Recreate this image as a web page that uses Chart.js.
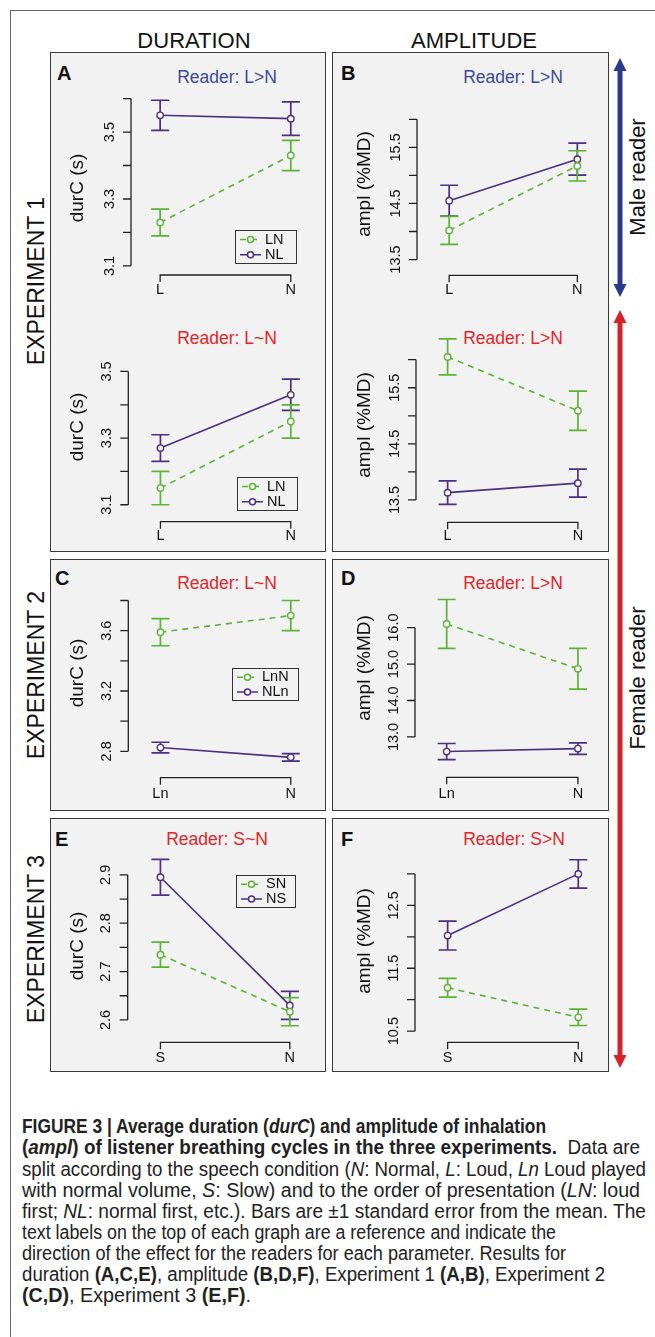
<!DOCTYPE html>
<html lang="en">
<head>
<meta charset="UTF-8" />
<title>Figure 3 - durC and ampl</title>
<script src="https://cdn.jsdelivr.net/npm/chart.js"></script>
<style>
  body {
    margin: 0;
    width: 655px;
    height: 1337px;
    position: relative;
    overflow: hidden;
    background: #fff;
    font-family: "Liberation Sans", Arial, sans-serif;
    color: #111;
  }
  .abs { position: absolute; }
  .box { position: absolute; background: #f2f2f2; border: 1.5px solid #3a3a3a; box-sizing: border-box; }
  .head { position: absolute; font-size: 22px; line-height: 1; white-space: nowrap; transform: translate(-50%, -50%); }
  .rot { position: absolute; line-height: 1; white-space: nowrap; transform: translate(-50%, -50%) rotate(-90deg); }
  .letter { position: absolute; font-weight: bold; font-size: 20px; line-height: 20px; }
  .ttl { position: absolute; font-size: 17.5px; line-height: 1; white-space: nowrap; transform: translate(-50%, -50%); }
  .blue { color: #3d489c; }
  .red { color: #e0252b; }
  canvas { position: absolute; }
  .cap { position: absolute; left: 22px; font-size: 20px; line-height: 20px; white-space: nowrap; transform-origin: 0 0; color: #222; }
</style>
</head>
<body>
  <!-- outer frame -->
  <div class="abs" style="left:10px;top:10px;width:700px;height:1400px;border-left:1.5px solid #666;border-top:1.5px solid #666;"></div>

  <div class="head" style="left:194px;top:41px;">DURATION</div>
  <div class="head" style="left:474px;top:41px;">AMPLITUDE</div>

  <div class="rot" style="left:36px;top:281px;font-size:23px;">EXPERIMENT 1</div>
  <div class="rot" style="left:36px;top:675px;font-size:23px;">EXPERIMENT 2</div>
  <div class="rot" style="left:36px;top:939px;font-size:23px;">EXPERIMENT 3</div>

  <div class="box" style="left:50px;top:52px;width:276px;height:500px;"></div>
  <div class="box" style="left:332px;top:52px;width:277px;height:500px;"></div>
  <div class="box" style="left:50px;top:559px;width:276px;height:252px;"></div>
  <div class="box" style="left:332px;top:559px;width:277px;height:252px;"></div>
  <div class="box" style="left:50px;top:818px;width:276px;height:254px;"></div>
  <div class="box" style="left:332px;top:818px;width:277px;height:254px;"></div>

  <div class="letter" style="left:57px;top:63px;">A</div>
  <div class="letter" style="left:341px;top:63px;">B</div>
  <div class="letter" style="left:55px;top:568px;">C</div>
  <div class="letter" style="left:341px;top:568px;">D</div>
  <div class="letter" style="left:55px;top:829px;">E</div>
  <div class="letter" style="left:341px;top:829px;">F</div>

  <div class="ttl blue" style="left:227px;top:78px;">Reader: L&gt;N</div>
  <div class="ttl blue" style="left:513px;top:78px;">Reader: L&gt;N</div>
  <div class="ttl red" style="left:227px;top:339px;">Reader: L~N</div>
  <div class="ttl red" style="left:513px;top:339px;">Reader: L&gt;N</div>
  <div class="ttl red" style="left:227px;top:584px;">Reader: L~N</div>
  <div class="ttl red" style="left:513px;top:584px;">Reader: L&gt;N</div>
  <div class="ttl red" style="left:217px;top:840px;">Reader: S~N</div>
  <div class="ttl red" style="left:514px;top:840px;">Reader: S&gt;N</div>

  <!-- reader arrows -->
  <svg class="abs" style="left:0;top:0;" width="655" height="1337">
    <rect x="617.5" y="68" width="5" height="220" fill="#2b3a8f" />
    <polygon points="620,58 613.5,71 626.5,71" fill="#2b3a8f" />
    <polygon points="620,297 613.5,284 626.5,284" fill="#2b3a8f" />
    <rect x="617.5" y="320" width="5" height="738" fill="#d7202a" />
    <polygon points="620,310 613.5,323 626.5,323" fill="#d7202a" />
    <polygon points="620,1068 613.5,1055 626.5,1055" fill="#d7202a" />
  </svg>
  <div class="rot" style="left:638px;top:177px;font-size:22px;">Male reader</div>
  <div class="rot" style="left:638px;top:678px;font-size:22px;">Female reader</div>

  <canvas id="A1"></canvas>
  <canvas id="A2"></canvas>
  <canvas id="B1"></canvas>
  <canvas id="B2"></canvas>
  <canvas id="C"></canvas>
  <canvas id="D"></canvas>
  <canvas id="E"></canvas>
  <canvas id="F"></canvas>

  <div class="cap" data-r="546" style="top:1116px;"><b>FIGURE 3 | Average duration (<i>durC</i>) and amplitude of inhalation</b></div>
  <div class="cap" data-r="640" style="top:1137px;"><b>(<i>ampl</i>) of listener breathing cycles in the three experiments.</b>&nbsp; Data are</div>
  <div class="cap" data-r="646" style="top:1158.5px;">split according to the speech condition (<i>N</i>: Normal, <i>L</i>: Loud, <i>Ln</i> Loud played</div>
  <div class="cap" data-r="640" style="top:1179.5px;">with normal volume, <i>S</i>: Slow) and to the order of presentation (<i>LN</i>: loud</div>
  <div class="cap" data-r="646" style="top:1200.5px;">first; <i>NL</i>: normal first, etc.). Bars are ±1 standard error from the mean. The</div>
  <div class="cap" data-r="556" style="top:1221.5px;">text labels on the top of each graph are a reference and indicate the</div>
  <div class="cap" data-r="566" style="top:1242.5px;">direction of the effect for the readers for each parameter. Results for</div>
  <div class="cap" data-r="605" style="top:1263.5px;">duration <b>(A,C,E)</b>, amplitude <b>(B,D,F)</b>, Experiment 1 <b>(A,B)</b>, Experiment 2</div>
  <div class="cap" data-r="251" style="top:1284.5px;"><b>(C,D)</b>, Experiment 3 <b>(E,F)</b>.</div>

  <script>
    // conditions on the x axis
    const e1Cond = ['L', 'N'];
    const e2Cond = ['Ln', 'N'];
    const e3Cond = ['S', 'N'];

    // means and +-1 SE (left condition, N)
    // experiment 1, male reader
    const durMaleLN = [3.23, 3.43],  durMaleLNse = [0.04, 0.045];
    const durMaleNL = [3.55, 3.54],  durMaleNLse = [0.045, 0.05];
    const amplMaleLN = [14.02, 15.17], amplMaleLNse = [0.25, 0.27];
    const amplMaleNL = [14.55, 15.29], amplMaleNLse = [0.275, 0.285];
    // experiment 1, female reader
    const durFemLN = [3.15, 3.35],   durFemLNse = [0.05, 0.05];
    const durFemNL = [3.27, 3.43],   durFemNLse = [0.04, 0.047];
    const amplFemLN = [16.05, 15.09], amplFemLNse = [0.32, 0.35];
    const amplFemNL = [13.63, 13.80], amplFemNLse = [0.21, 0.25];
    // experiment 2
    const durLnN = [3.59, 3.70],     durLnNse = [0.09, 0.10];
    const durNLn = [2.825, 2.76],    durNLnse = [0.035, 0.025];
    const amplLnN = [16.10, 14.87],  amplLnNse = [0.67, 0.56];
    const amplNLn = [12.60, 12.68],  amplNLnse = [0.22, 0.16];
    // experiment 3
    const durSN = [2.735, 2.617],    durSNse = [0.026, 0.029];
    const durNS = [2.895, 2.63],     durNSse = [0.037, 0.029];
    const amplSN = [11.19, 10.72],   amplSNse = [0.15, 0.13];
    const amplNS = [12.02, 13.00],   amplNSse = [0.23, 0.225];

    // y ticks and their labels ('' = tick without label)
    const ticksA1 = [3.1, 3.2, 3.3, 3.4, 3.5, 3.6], labA1 = ['3.1', '', '3.3', '', '3.5', ''];
    const ticksA2 = [3.1, 3.2, 3.3, 3.4, 3.5],      labA2 = ['3.1', '', '3.3', '', '3.5'];
    const ticksB = [13.5, 14, 14.5, 15, 15.5, 16],  labB = ['13.5', '', '14.5', '', '15.5', ''];
    const ticksC = [2.8, 3.0, 3.2, 3.4, 3.6, 3.8],  labC = ['2.8', '', '3.2', '', '3.6', ''];
    const ticksD = [13, 14, 15, 16],                labD = ['13.0', '14.0', '15.0', '16.0'];
    const ticksE = [2.6, 2.65, 2.7, 2.75, 2.8, 2.85, 2.9], labE = ['2.6', '', '2.7', '', '2.8', '', '2.9'];
    const ticksF = [10.5, 11, 11.5, 12, 12.5, 13],  labF = ['10.5', '', '11.5', '', '12.5', ''];

    // page geometry of each plot: canvas box, y anchors [vLow, pxLow, vHigh, pxHigh], axes, title, legend
    const layA1 = { box: [51, 53, 274, 248], ya: [3.1, 270, 3.6, 95], axisX: 131, xL: 159, xN: 295, xAxisY: 275, xLabY: 290, ttl: [78, 188], leg: [235, 230, 61, 33] };
    const layA2 = { box: [51, 301, 274, 250], ya: [3.1, 508.3, 3.5, 369], axisX: 128.3, xL: 159.3, xN: 295, xAxisY: 521.7, xLabY: 535.5, ttl: [78, 427], leg: [237, 477, 60, 33] };
    const layB1 = { box: [333, 53, 275, 248], ya: [13.5, 263.3, 16, 116.7], axisX: 417, xL: 448.3, xN: 581.7, xAxisY: 275.3, xLabY: 290, ttl: [365, 184] };
    const layB2 = { box: [333, 301, 275, 250], ya: [13.5, 503.3, 16, 356.7], axisX: 416, xL: 446.7, xN: 582.3, xAxisY: 522.3, xLabY: 535.5, ttl: [365, 425] };
    const layC = { box: [51, 560, 274, 250], ya: [2.8, 754.3, 3.8, 596.7], axisX: 128.3, xL: 159.3, xN: 295, xAxisY: 777.7, xLabY: 793.5, ttl: [78, 673], leg: [232, 668, 66, 32] };
    const layD = { box: [333, 560, 275, 250], ya: [13, 739.3, 16, 625], axisX: 415, xL: 445.7, xN: 582.3, xAxisY: 777.3, xLabY: 794, ttl: [365, 668] };
    const layE = { box: [51, 819, 274, 252], ya: [2.6, 1023.3, 2.9, 871.7], axisX: 127.7, xL: 159.3, xN: 294, xAxisY: 1042.3, xLabY: 1057.5, ttl: [78, 946], leg: [236, 875, 59, 32] };
    const layF = { box: [333, 819, 275, 252], ya: [10.5, 1035, 13, 870.7], axisX: 415, xL: 446.7, xN: 582.7, xAxisY: 1042.3, xLabY: 1057.5, ttl: [365, 941] };

    const GREEN = '#5bb336';
    const PURPLE = '#4a2f82';
    const FONT = '"Liberation Sans", Arial, sans-serif';

    const plots = [
      { id: 'A1', cond: e1Cond, names: ['LN', 'NL'], g: [durMaleLN, durMaleLNse], p: [durMaleNL, durMaleNLse], ticks: ticksA1, lab: labA1, ylab: 'durC (s)', lay: layA1 },
      { id: 'A2', cond: e1Cond, names: ['LN', 'NL'], g: [durFemLN, durFemLNse], p: [durFemNL, durFemNLse], ticks: ticksA2, lab: labA2, ylab: 'durC (s)', lay: layA2 },
      { id: 'B1', cond: e1Cond, names: ['LN', 'NL'], g: [amplMaleLN, amplMaleLNse], p: [amplMaleNL, amplMaleNLse], ticks: ticksB, lab: labB, ylab: 'ampl (%MD)', lay: layB1 },
      { id: 'B2', cond: e1Cond, names: ['LN', 'NL'], g: [amplFemLN, amplFemLNse], p: [amplFemNL, amplFemNLse], ticks: ticksB, lab: labB, ylab: 'ampl (%MD)', lay: layB2 },
      { id: 'C', cond: e2Cond, names: ['LnN', 'NLn'], g: [durLnN, durLnNse], p: [durNLn, durNLnse], ticks: ticksC, lab: labC, ylab: 'durC (s)', lay: layC },
      { id: 'D', cond: e2Cond, names: ['LnN', 'NLn'], g: [amplLnN, amplLnNse], p: [amplNLn, amplNLnse], ticks: ticksD, lab: labD, ylab: 'ampl (%MD)', lay: layD },
      { id: 'E', cond: e3Cond, names: ['SN', 'NS'], g: [durSN, durSNse], p: [durNS, durNSse], ticks: ticksE, lab: labE, ylab: 'durC (s)', lay: layE },
      { id: 'F', cond: e3Cond, names: ['SN', 'NS'], g: [amplSN, amplSNse], p: [amplNS, amplNSse], ticks: ticksF, lab: labF, ylab: 'ampl (%MD)', lay: layF }
    ];

    function rotText(ctx, txt, x, y, font) {
      ctx.save();
      ctx.translate(x, y);
      ctx.rotate(-Math.PI / 2);
      ctx.font = font;
      ctx.textAlign = 'center';
      ctx.textBaseline = 'middle';
      ctx.fillText(txt, 0, 0);
      ctx.restore();
    }

    // R-style axes, error bars and legend
    function rStyle(p) {
      const ox = p.lay.box[0], oy = p.lay.box[1];
      return {
        id: 'rStyle',
        beforeDatasetsDraw(chart) {
          const { ctx, scales: { x, y } } = chart;
          chart.data.datasets.slice().reverse().forEach(ds => {
            ctx.save();
            ctx.strokeStyle = ds.borderColor;
            ctx.lineWidth = 1.7;
            ds.data.forEach(pt => {
              const px = x.getPixelForValue(pt.x);
              const lo = y.getPixelForValue(pt.y - pt.se);
              const hi = y.getPixelForValue(pt.y + pt.se);
              ctx.beginPath();
              ctx.moveTo(px, lo); ctx.lineTo(px, hi);
              ctx.moveTo(px - 9, lo); ctx.lineTo(px + 9, lo);
              ctx.moveTo(px - 9, hi); ctx.lineTo(px + 9, hi);
              ctx.stroke();
            });
            ctx.restore();
          });
        },
        afterDraw(chart) {
          const { ctx, scales: { x, y } } = chart;
          ctx.save();
          ctx.strokeStyle = '#222';
          ctx.fillStyle = '#111';
          ctx.lineWidth = 1.3;

          // y axis
          const ax = p.lay.axisX - ox;
          ctx.beginPath();
          ctx.moveTo(ax, y.getPixelForValue(p.ticks[0]));
          ctx.lineTo(ax, y.getPixelForValue(p.ticks[p.ticks.length - 1]));
          p.ticks.forEach(t => {
            const py = y.getPixelForValue(t);
            ctx.moveTo(ax - 8, py); ctx.lineTo(ax, py);
          });
          ctx.stroke();
          p.ticks.forEach((t, i) => {
            if (p.lab[i]) rotText(ctx, p.lab[i], ax - 21.5, y.getPixelForValue(t), '14.5px ' + FONT);
          });
          rotText(ctx, p.ylab, p.lay.ttl[0] - ox, p.lay.ttl[1] - oy, '19px ' + FONT);

          // x axis bracket
          const xa = p.lay.xAxisY - oy;
          const x0 = x.getPixelForValue(0), x1 = x.getPixelForValue(1);
          ctx.beginPath();
          ctx.moveTo(x0, xa + 7); ctx.lineTo(x0, xa); ctx.lineTo(x1, xa); ctx.lineTo(x1, xa + 7);
          ctx.stroke();
          ctx.font = '14.5px ' + FONT;
          ctx.textAlign = 'center';
          ctx.textBaseline = 'middle';
          p.cond.forEach((c, i) => ctx.fillText(c, x.getPixelForValue(i), p.lay.xLabY - oy));

          // legend
          if (p.lay.leg) {
            const [lx, ly, lw, lh] = p.lay.leg;
            const bx = lx - ox, by = ly - oy;
            ctx.lineWidth = 1;
            ctx.strokeStyle = '#333';
            ctx.strokeRect(bx + 0.5, by + 0.5, lw, lh);
            chart.data.datasets.forEach((ds, i) => {
              const ry = by + lh * (i === 0 ? 0.29 : 0.75);
              ctx.strokeStyle = ds.borderColor;
              ctx.lineWidth = 1.5;
              ctx.setLineDash(ds.borderDash || []);
              ctx.beginPath(); ctx.moveTo(bx + 5, ry); ctx.lineTo(bx + 26, ry); ctx.stroke();
              ctx.setLineDash([]);
              ctx.beginPath(); ctx.arc(bx + 15.5, ry, 3, 0, Math.PI * 2);
              ctx.fillStyle = '#fff'; ctx.fill(); ctx.stroke();
              ctx.fillStyle = '#111';
              ctx.textAlign = 'left';
              ctx.fillText(ds.label, bx + 30, ry);
            });
          }
          ctx.restore();
        }
      };
    }

    function series(vals) {
      return vals[0].map((v, i) => ({ x: i, y: v, se: vals[1][i] }));
    }

    plots.forEach(p => {
      const [bl, bt, bw, bh] = p.lay.box;
      const cv = document.getElementById(p.id);
      cv.width = bw; cv.height = bh;
      cv.style.left = bl + 'px'; cv.style.top = bt + 'px';

      const [vLo, pLo, vHi, pHi] = p.lay.ya;
      const k = (pLo - pHi) / (vHi - vLo);
      const yMax = vHi + (pHi - bt) / k;
      const yMin = vLo - (bt + bh - pLo) / k;
      const dx = p.lay.xN - p.lay.xL;
      const xMin = -(p.lay.xL - bl) / dx;
      const xMax = 1 + (bl + bw - p.lay.xN) / dx;

      new Chart(cv.getContext('2d'), {
        type: 'line',
        data: {
          datasets: [
            {
              label: p.names[0], data: series(p.g),
              borderColor: GREEN, borderWidth: 1.6, borderDash: [6, 5],
              pointRadius: 3.2, pointBorderWidth: 1.4, pointBackgroundColor: '#fff', pointBorderColor: GREEN
            },
            {
              label: p.names[1], data: series(p.p),
              borderColor: PURPLE, borderWidth: 1.6,
              pointRadius: 3.2, pointBorderWidth: 1.4, pointBackgroundColor: '#fff', pointBorderColor: PURPLE
            }
          ]
        },
        options: {
          responsive: false,
          animation: false,
          events: [],
          layout: { padding: 0 },
          plugins: { legend: { display: false }, tooltip: { enabled: false } },
          scales: {
            x: { type: 'linear', display: false, min: xMin, max: xMax },
            y: { type: 'linear', display: false, min: yMin, max: yMax }
          }
        },
        plugins: [rStyle(p)]
      });
    });

    // fit caption lines to their measured extent
    document.querySelectorAll('.cap').forEach(el => {
      const w = el.getBoundingClientRect().width;
      el.style.transform = 'scaleX(' + ((+el.dataset.r - 22) / w).toFixed(4) + ')';
    });
  </script>
</body>
</html>
